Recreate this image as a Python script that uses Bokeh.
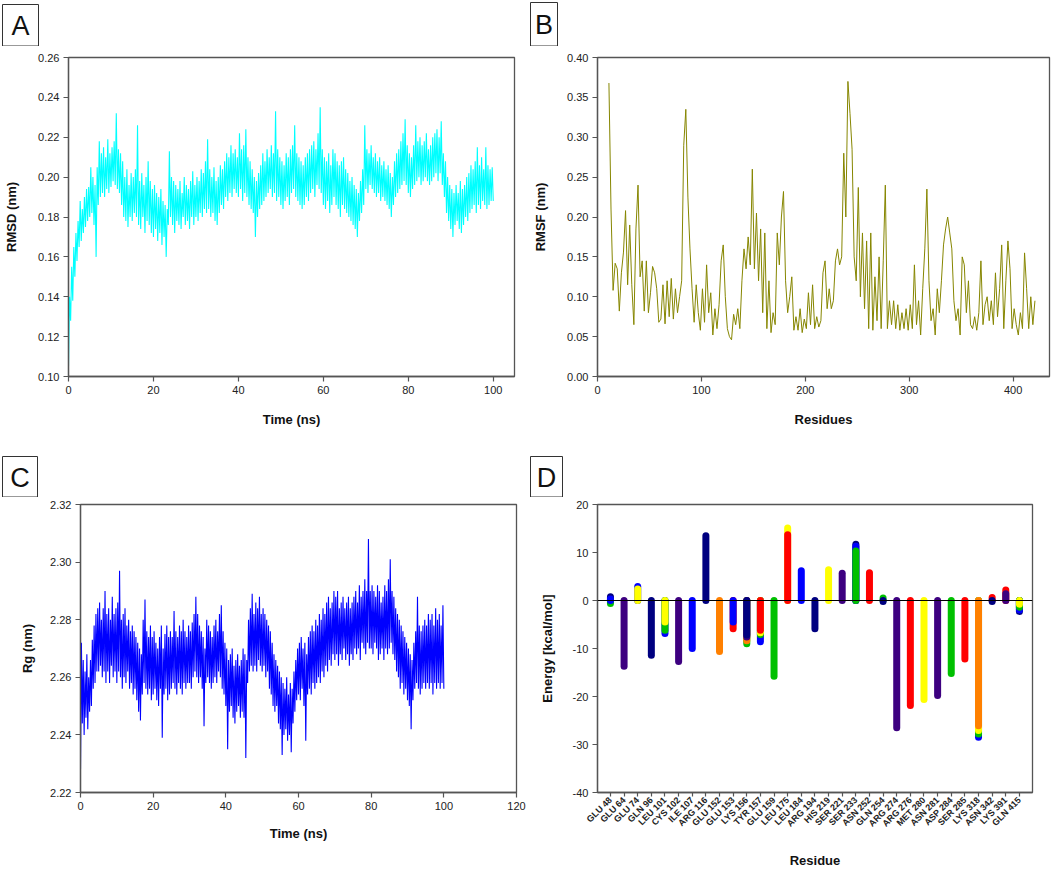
import math
import numpy as np
from bokeh.plotting import figure
from bokeh.layouts import column, row
from bokeh.models import FixedTicker, PrintfTickFormatter, Span, ColumnDataSource
from bokeh.core.properties import value
from bokeh.embed import file_html
from bokeh.resources import INLINE

FONT = "Liberation Sans"

# ---------------- Panel A: RMSD ----------------
time_a = np.arange(0, 100.01, 0.25)
rmsd = [
    0.105,0.140,0.128,0.155,0.138,0.165,0.150,0.172,0.158,0.178,0.165,0.188,0.168,0.184,0.172,0.190,0.175,0.194,0.178,0.195,
    0.180,0.205,0.182,0.200,0.176,0.196,0.160,0.205,0.186,0.218,0.190,0.212,0.192,0.215,0.190,0.210,0.194,0.219,0.192,0.212,
    0.195,0.215,0.198,0.218,0.196,0.232,0.194,0.214,0.192,0.212,0.186,0.208,0.180,0.200,0.178,0.204,0.175,0.196,0.180,0.202,
    0.178,0.200,0.182,0.204,0.180,0.226,0.176,0.198,0.174,0.202,0.180,0.196,0.172,0.200,0.178,0.208,0.176,0.198,0.172,0.194,
    0.170,0.196,0.174,0.192,0.168,0.190,0.172,0.194,0.166,0.188,0.170,0.186,0.160,0.184,0.176,0.213,0.180,0.200,0.176,0.198,
    0.172,0.196,0.178,0.194,0.176,0.198,0.174,0.192,0.180,0.200,0.176,0.196,0.178,0.194,0.174,0.198,0.180,0.203,0.176,0.196,
    0.180,0.200,0.178,0.198,0.182,0.204,0.180,0.202,0.184,0.208,0.182,0.219,0.184,0.204,0.180,0.200,0.182,0.205,0.178,0.198,
    0.176,0.200,0.182,0.206,0.186,0.204,0.184,0.208,0.190,0.212,0.188,0.210,0.192,0.216,0.190,0.212,0.194,0.214,0.192,0.210,
    0.190,0.222,0.194,0.214,0.188,0.216,0.192,0.224,0.190,0.210,0.186,0.208,0.184,0.204,0.182,0.200,0.170,0.198,0.180,0.202,
    0.184,0.206,0.186,0.212,0.188,0.208,0.190,0.214,0.192,0.210,0.194,0.216,0.190,0.212,0.192,0.233,0.188,0.214,0.190,0.210,
    0.186,0.208,0.184,0.206,0.188,0.212,0.190,0.210,0.186,0.214,0.192,0.216,0.194,0.226,0.190,0.212,0.188,0.210,0.186,0.208,
    0.184,0.206,0.186,0.210,0.190,0.212,0.188,0.214,0.192,0.216,0.194,0.218,0.190,0.214,0.196,0.222,0.194,0.235,0.192,0.214,
    0.186,0.210,0.184,0.208,0.188,0.212,0.182,0.206,0.186,0.214,0.190,0.212,0.186,0.208,0.184,0.206,0.180,0.208,0.186,0.210,
    0.184,0.204,0.182,0.202,0.180,0.198,0.178,0.200,0.176,0.196,0.174,0.194,0.170,0.192,0.178,0.198,0.182,0.204,0.186,0.226,
    0.194,0.214,0.192,0.212,0.196,0.216,0.194,0.210,0.192,0.212,0.190,0.208,0.192,0.210,0.188,0.206,0.190,0.208,0.188,0.204,
    0.186,0.206,0.184,0.202,0.180,0.200,0.186,0.208,0.190,0.212,0.192,0.214,0.194,0.218,0.196,0.222,0.198,0.229,0.196,0.216,
    0.192,0.212,0.190,0.210,0.194,0.216,0.196,0.226,0.198,0.218,0.200,0.220,0.196,0.216,0.198,0.218,0.200,0.222,0.198,0.214,
    0.196,0.216,0.198,0.220,0.200,0.222,0.202,0.224,0.198,0.220,0.202,0.228,0.196,0.212,0.190,0.208,0.182,0.200,0.178,0.196,
    0.174,0.194,0.170,0.192,0.176,0.196,0.178,0.192,0.174,0.198,0.172,0.194,0.176,0.196,0.180,0.200,0.178,0.202,0.182,0.206,
    0.184,0.204,0.186,0.208,0.182,0.215,0.186,0.206,0.184,0.210,0.188,0.204,0.186,0.215,0.184,0.206,0.186,0.204,0.188,0.205,
    0.188,
]

# ---------------- Panel B: RMSF ----------------
res_b = np.arange(11, 422, 2)
rmsf = [
    0.368, 0.210, 0.108, 0.142, 0.135, 0.082, 0.130, 0.156, 0.208, 0.115,
    0.190, 0.115, 0.065, 0.185, 0.240, 0.125, 0.145, 0.082, 0.145, 0.080,
    0.105, 0.138, 0.130, 0.110, 0.068, 0.072, 0.115, 0.066, 0.120, 0.075,
    0.123, 0.072, 0.110, 0.080, 0.100, 0.120, 0.290, 0.335, 0.225, 0.160,
    0.110, 0.068, 0.115, 0.080, 0.058, 0.110, 0.068, 0.140, 0.080, 0.105,
    0.052, 0.085, 0.060, 0.090, 0.145, 0.165, 0.100, 0.060, 0.050, 0.046,
    0.078, 0.065, 0.085, 0.060, 0.120, 0.160, 0.135, 0.175, 0.140, 0.260,
    0.135, 0.205, 0.120, 0.185, 0.080, 0.180, 0.060, 0.120, 0.055, 0.080,
    0.065, 0.180, 0.140, 0.200, 0.232, 0.120, 0.080, 0.100, 0.125, 0.058,
    0.075, 0.058, 0.085, 0.055, 0.072, 0.060, 0.105, 0.065, 0.115, 0.060,
    0.075, 0.062, 0.070, 0.130, 0.145, 0.085, 0.110, 0.085, 0.095, 0.145,
    0.160, 0.140, 0.150, 0.280, 0.200, 0.370, 0.330, 0.285, 0.150, 0.120,
    0.237, 0.100, 0.180, 0.085, 0.170, 0.060, 0.180, 0.058, 0.125, 0.070,
    0.150, 0.060, 0.145, 0.240, 0.060, 0.095, 0.065, 0.095, 0.060, 0.090,
    0.058, 0.080, 0.060, 0.085, 0.058, 0.090, 0.060, 0.140, 0.065, 0.095,
    0.052, 0.110, 0.160, 0.235, 0.120, 0.070, 0.085, 0.052, 0.110, 0.080,
    0.120, 0.165, 0.185, 0.200, 0.180, 0.160, 0.095, 0.070, 0.085, 0.052,
    0.150, 0.140, 0.080, 0.120, 0.065, 0.060, 0.075, 0.058, 0.080, 0.145,
    0.065, 0.090, 0.100, 0.070, 0.095, 0.065, 0.130, 0.075, 0.110, 0.165,
    0.060, 0.120, 0.170, 0.135, 0.060, 0.085, 0.065, 0.052, 0.080, 0.060,
    0.155, 0.110, 0.060, 0.100, 0.065, 0.095,
]

# ---------------- Panel C: Rg ----------------
time_c = np.arange(0, 100.01, 0.25)
rg = [
    2.228,2.272,2.244,2.266,2.240,2.262,2.246,2.268,2.242,2.260,2.248,2.266,2.250,2.273,2.256,2.278,2.258,2.282,2.262,2.284,
    2.262,2.286,2.264,2.280,2.260,2.284,2.262,2.290,2.258,2.282,2.262,2.284,2.258,2.280,2.264,2.288,2.260,2.282,2.262,2.284,
    2.258,2.286,2.262,2.297,2.260,2.280,2.256,2.282,2.260,2.284,2.258,2.278,2.262,2.280,2.256,2.276,2.258,2.278,2.254,2.276,
    2.256,2.274,2.252,2.272,2.248,2.270,2.245,2.268,2.254,2.280,2.258,2.287,2.256,2.276,2.254,2.274,2.256,2.278,2.252,2.274,
    2.254,2.276,2.256,2.272,2.252,2.270,2.250,2.274,2.256,2.278,2.239,2.270,2.254,2.275,2.256,2.278,2.252,2.274,2.254,2.276,
    2.256,2.274,2.258,2.283,2.256,2.276,2.254,2.274,2.258,2.278,2.256,2.276,2.254,2.280,2.258,2.276,2.256,2.274,2.258,2.278,
    2.258,2.276,2.256,2.279,2.260,2.282,2.262,2.288,2.260,2.282,2.258,2.278,2.260,2.276,2.256,2.274,2.243,2.270,2.258,2.280,
    2.260,2.278,2.258,2.276,2.256,2.274,2.258,2.278,2.260,2.280,2.258,2.276,2.262,2.282,2.260,2.285,2.256,2.276,2.254,2.272,
    2.250,2.270,2.235,2.266,2.248,2.268,2.250,2.270,2.246,2.264,2.244,2.266,2.248,2.268,2.250,2.264,2.246,2.266,2.248,2.270,
    2.246,2.268,2.232,2.266,2.258,2.280,2.262,2.284,2.264,2.289,2.262,2.282,2.264,2.286,2.262,2.284,2.266,2.288,2.264,2.282,
    2.262,2.284,2.264,2.282,2.260,2.280,2.262,2.278,2.256,2.276,2.254,2.272,2.250,2.268,2.248,2.266,2.250,2.264,2.244,2.262,
    2.242,2.260,2.233,2.258,2.240,2.256,2.242,2.260,2.238,2.254,2.240,2.258,2.234,2.256,2.244,2.262,2.248,2.266,2.252,2.270,
    2.254,2.272,2.252,2.274,2.256,2.270,2.250,2.272,2.238,2.268,2.254,2.274,2.256,2.276,2.254,2.278,2.258,2.276,2.256,2.280,
    2.258,2.278,2.260,2.282,2.258,2.280,2.262,2.284,2.260,2.282,2.264,2.286,2.262,2.288,2.266,2.284,2.264,2.286,2.268,2.290,
    2.266,2.288,2.268,2.290,2.264,2.284,2.268,2.286,2.266,2.288,2.270,2.284,2.266,2.286,2.268,2.288,2.264,2.284,2.268,2.286,
    2.266,2.288,2.270,2.290,2.268,2.286,2.270,2.292,2.266,2.288,2.272,2.290,2.270,2.294,2.268,2.290,2.272,2.308,2.270,2.290,
    2.270,2.292,2.268,2.290,2.272,2.288,2.270,2.292,2.266,2.290,2.268,2.286,2.270,2.288,2.266,2.292,2.270,2.290,2.268,2.294,
    2.270,2.301,2.272,2.290,2.268,2.288,2.266,2.284,2.262,2.282,2.260,2.280,2.256,2.278,2.258,2.276,2.254,2.274,2.256,2.272,
    2.252,2.270,2.250,2.268,2.242,2.266,2.252,2.272,2.256,2.276,2.258,2.288,2.256,2.278,2.254,2.276,2.256,2.278,2.258,2.280,
    2.256,2.278,2.258,2.282,2.256,2.280,2.258,2.282,2.254,2.278,2.258,2.284,2.256,2.280,2.258,2.282,2.256,2.278,2.258,2.285,
    2.256,
]

# ---------------- Panel D: per-residue energy ----------------
residues = ["GLU 48", "GLU 64", "GLU 74", "GLN 96", "LEU 101", "CYS 102", "ILE 107",
            "ARG 116", "GLU 152", "GLU 153", "LYS 156", "TYR 157", "GLU 159", "LEU 175",
            "LEU 184", "ARG 194", "HIS 219", "SER 221", "SER 233", "ASN 252", "GLN 254",
            "ARG 274", "ARG 276", "MET 280", "ASN 281", "ASP 284", "SER 285", "LYS 318",
            "ASN 342", "LYS 391", "GLN 415"]
N = None
e_navy   = [0.8, N, N, -11.4, N, N, N, 13.5, N, N, -7.2, N, N, N, N, -5.9, N, N, 11.7, N,
            -0.2, N, N, N, N, N, N, N, -0.2, N, -2.3]
e_purple = [N, -13.7, N, N, N, -12.7, N, N, N, N, -7.6, N, N, N, N, N, N, 5.7, N, N,
            N, -26.5, N, N, -19.8, N, N, N, N, 1.4, N]
e_blue   = [0.3, N, 2.9, N, -6.9, N, -10.0, N, N, -4.5, N, -8.6, N, N, 6.2, N, N, N, 11.3, N,
            N, N, N, N, N, N, N, -28.5, N, N, -2.0]
e_green  = [-0.6, N, N, N, -6.2, N, N, N, N, N, -9.0, -7.1, -15.8, N, N, N, N, N, 10.3, N,
            0.5, N, N, N, N, -15.2, N, -27.8, N, N, -1.4]
e_yellow = [N, N, 2.4, N, -4.5, N, N, N, N, N, N, -6.7, N, 15.1, N, N, 6.4, N, N, N,
            N, N, N, -20.6, N, N, N, -27.1, N, N, -0.8]
e_orange = [N, N, N, N, N, N, N, N, -10.6, N, -8.4, N, N, N, N, N, N, N, N, N,
            N, N, N, N, N, N, N, -26.1, N, N, N]
e_red    = [N, N, N, N, N, N, N, N, N, -5.9, N, -6.2, N, 13.7, N, N, N, N, N, 5.8,
            N, N, -21.9, N, N, N, -12.2, N, 0.6, 2.2, N]

panel_letters_top = ["A", "B"]
panel_letters_bottom = ["C", "D"]


def style(p, xlabel, ylabel, xstand, ystand):
    p.outline_line_color = "#555555"
    p.outline_line_width = 1.3
    p.xgrid.visible = False
    p.ygrid.visible = False
    p.xaxis.axis_label = xlabel
    p.yaxis.axis_label = ylabel
    for ax in (p.xaxis[0], p.yaxis[0]):
        ax.axis_line_color = "#555555"
        ax.axis_line_width = 1.3
        ax.major_tick_line_color = "#555555"
        ax.major_tick_line_width = 1.2
        ax.major_tick_in = 0
        ax.major_tick_out = 5
        ax.minor_tick_line_color = None
        ax.major_label_text_font = FONT
        ax.major_label_text_font_size = "11px"
        ax.major_label_text_color = "#222222"
        ax.major_label_standoff = 4
        ax.axis_label_text_font = FONT
        ax.axis_label_text_font_size = "13px"
        ax.axis_label_text_font_style = "bold"
        ax.axis_label_text_color = "#111111"
    p.xaxis[0].axis_label_standoff = xstand
    p.yaxis[0].axis_label_standoff = ystand


common = dict(output_backend="svg", toolbar_location=None)


def header(height, letters, lefts, rights, tops, bottoms):
    h = figure(width=1052, height=height, x_range=(0, 1052), y_range=(height, 0),
               min_border=0, x_axis_location=None, y_axis_location=None,
               outline_line_color=None, **common)
    h.xgrid.visible = False
    h.ygrid.visible = False
    h.quad(left=lefts, right=rights, top=tops, bottom=bottoms,
           fill_color="white", line_color="#333333", line_width=1)
    h.text(x=[(l + r) / 2 for l, r in zip(lefts, rights)],
           y=[(t + b) / 2 + 1 for t, b in zip(tops, bottoms)],
           text=letters, text_font=value(FONT), text_font_size="27px",
           text_color="#111111", text_align="center", text_baseline="middle")
    return h


hTop = header(46, panel_letters_top, [2, 530], [38, 557], [4, 2], [45.5, 45.5])
hBot = header(53, panel_letters_bottom, [2, 530], [37, 562], [12, 12], [52.5, 52.5])

# A
pA = figure(width=530, height=398, x_range=(0, 105), y_range=(0.10, 0.26),
            min_border_left=68, min_border_right=16, min_border_top=11, min_border_bottom=67,
            **common)
pA.line(time_a, rmsd, line_color="#00FFFF", line_width=1.1)
style(pA, "Time (ns)", "RMSD (nm)", 15, 16)
pA.xaxis.ticker = FixedTicker(ticks=[0, 20, 40, 60, 80, 100])
pA.yaxis.ticker = FixedTicker(ticks=[0.10, 0.12, 0.14, 0.16, 0.18, 0.20, 0.22, 0.24, 0.26])
pA.yaxis.formatter = PrintfTickFormatter(format="%.2f")

# B
pB = figure(width=522, height=398, x_range=(0, 435), y_range=(0, 0.40),
            min_border_left=67, min_border_right=3, min_border_top=6, min_border_bottom=68,
            **common)
pB.line(res_b, rmsf, line_color="#868600", line_width=1)
style(pB, "Residues", "RMSF (nm)", 15, 16)
pB.xaxis.ticker = FixedTicker(ticks=[0, 100, 200, 300, 400])
pB.yaxis.ticker = FixedTicker(ticks=[0, 0.05, 0.10, 0.15, 0.20, 0.25, 0.30, 0.35, 0.40])
pB.yaxis.formatter = PrintfTickFormatter(format="%.2f")

# C
pC = figure(width=530, height=374, x_range=(0, 120), y_range=(2.22, 2.32),
            min_border_left=80, min_border_right=14, min_border_top=7, min_border_bottom=53,
            **common)
pC.line(time_c, rg, line_color="#0000FF", line_width=1.1)
style(pC, "Time (ns)", "Rg (nm)", 13, 12)
pC.xaxis.ticker = FixedTicker(ticks=[0, 20, 40, 60, 80, 100, 120])
pC.yaxis.ticker = FixedTicker(ticks=[2.22, 2.24, 2.26, 2.28, 2.30, 2.32])
pC.yaxis.formatter = PrintfTickFormatter(format="%.2f")

# D
pD = figure(width=522, height=374, x_range=(-0.95, 30.96), y_range=(-40, 20),
            min_border_left=67, min_border_right=20, min_border_top=4, min_border_bottom=74,
            **common)
layers = [("#000080", e_navy), ("#3D0080", e_purple), ("#0000FF", e_blue),
          ("#00C000", e_green), ("#FFFF00", e_yellow), ("#FF8000", e_orange),
          ("#FF0000", e_red)]
segs = []
for color, vals in layers:
    for i, v in enumerate(vals):
        if v is not None:
            segs.append((abs(v), i, v, color))
segs.sort(key=lambda s: -s[0])
srcD = ColumnDataSource(dict(x=[s[1] for s in segs], y=[s[2] for s in segs],
                             c=[s[3] for s in segs], z=[0] * len(segs)))
pD.segment(x0="x", y0="z", x1="x", y1="y", line_color="c", line_width=7,
           line_cap="round", source=srcD)
pD.add_layout(Span(location=0, dimension="width", line_color="black", line_width=1.2))
style(pD, "Residue", "Energy [kcal/mol]", 18, 15)
pD.xaxis[0].major_tick_out = 4
pD.xaxis[0].major_label_standoff = 2
pD.xaxis.ticker = FixedTicker(ticks=list(range(len(residues))))
pD.xaxis.major_label_overrides = {i: r for i, r in enumerate(residues)}
pD.xaxis.major_label_orientation = math.pi / 4
pD.xaxis.major_label_text_font_size = "9px"
pD.xaxis.major_label_text_font_style = "bold"
pD.yaxis.ticker = FixedTicker(ticks=[-40, -30, -20, -10, 0, 10, 20])
pD.yaxis.formatter = PrintfTickFormatter(format="%d")

layout = column(hTop, row(pA, pB), hBot, row(pC, pD))
open("out.html", "w").write(file_html(layout, INLINE))
